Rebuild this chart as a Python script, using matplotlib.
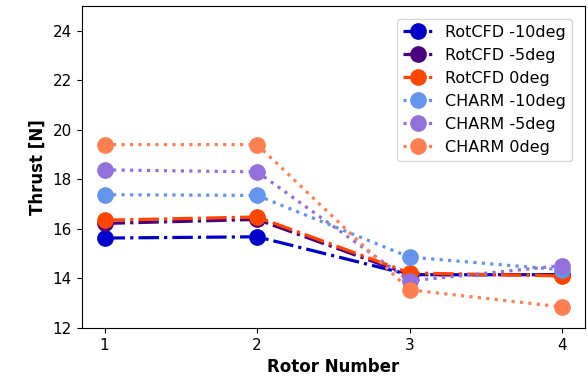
import matplotlib
matplotlib.use("Agg")
import matplotlib.pyplot as plt

rotors = [1, 2, 3, 4]
rotcfd_m10 = [15.63, 15.68, 14.15, 14.15]
rotcfd_m5 = [16.22, 16.38, 14.15, 14.15]
rotcfd_0 = [16.35, 16.48, 14.22, 14.1]
charm_m10 = [17.38, 17.35, 14.86, 14.35]
charm_m5 = [18.38, 18.3, 13.9, 14.52]
charm_0 = [19.4, 19.4, 13.54, 12.85]

series = [
    ("RotCFD -10deg", rotcfd_m10, "mediumblue", "-."),
    ("RotCFD -5deg", rotcfd_m5, "indigo", "-."),
    ("RotCFD 0deg", rotcfd_0, "orangered", "-."),
    ("CHARM -10deg", charm_m10, "cornflowerblue", ":"),
    ("CHARM -5deg", charm_m5, "mediumpurple", ":"),
    ("CHARM 0deg", charm_0, "coral", ":"),
]

fig, ax = plt.subplots(figsize=(5.88, 3.9), dpi=100)
fig.subplots_adjust(left=0.139, right=0.995, top=0.985, bottom=0.159)

for label, vals, color, ls in series:
    ax.plot(rotors, vals, linestyle=ls, color=color, marker="o", markersize=11,
            linewidth=2.3, label=label)

ax.set_ylim(12, 25)
ax.set_yticks([12, 14, 16, 18, 20, 22, 24])
ax.set_xticks(rotors)
ax.tick_params(labelsize=11)
ax.set_xlabel("Rotor Number", fontsize=12, fontweight="bold")
ax.set_ylabel("Thrust [N]", fontsize=12, fontweight="bold")
ax.legend(loc="upper right", fontsize=11.5, handlelength=1.8,
          borderaxespad=0.8)

fig.savefig("out.png", dpi=100)
